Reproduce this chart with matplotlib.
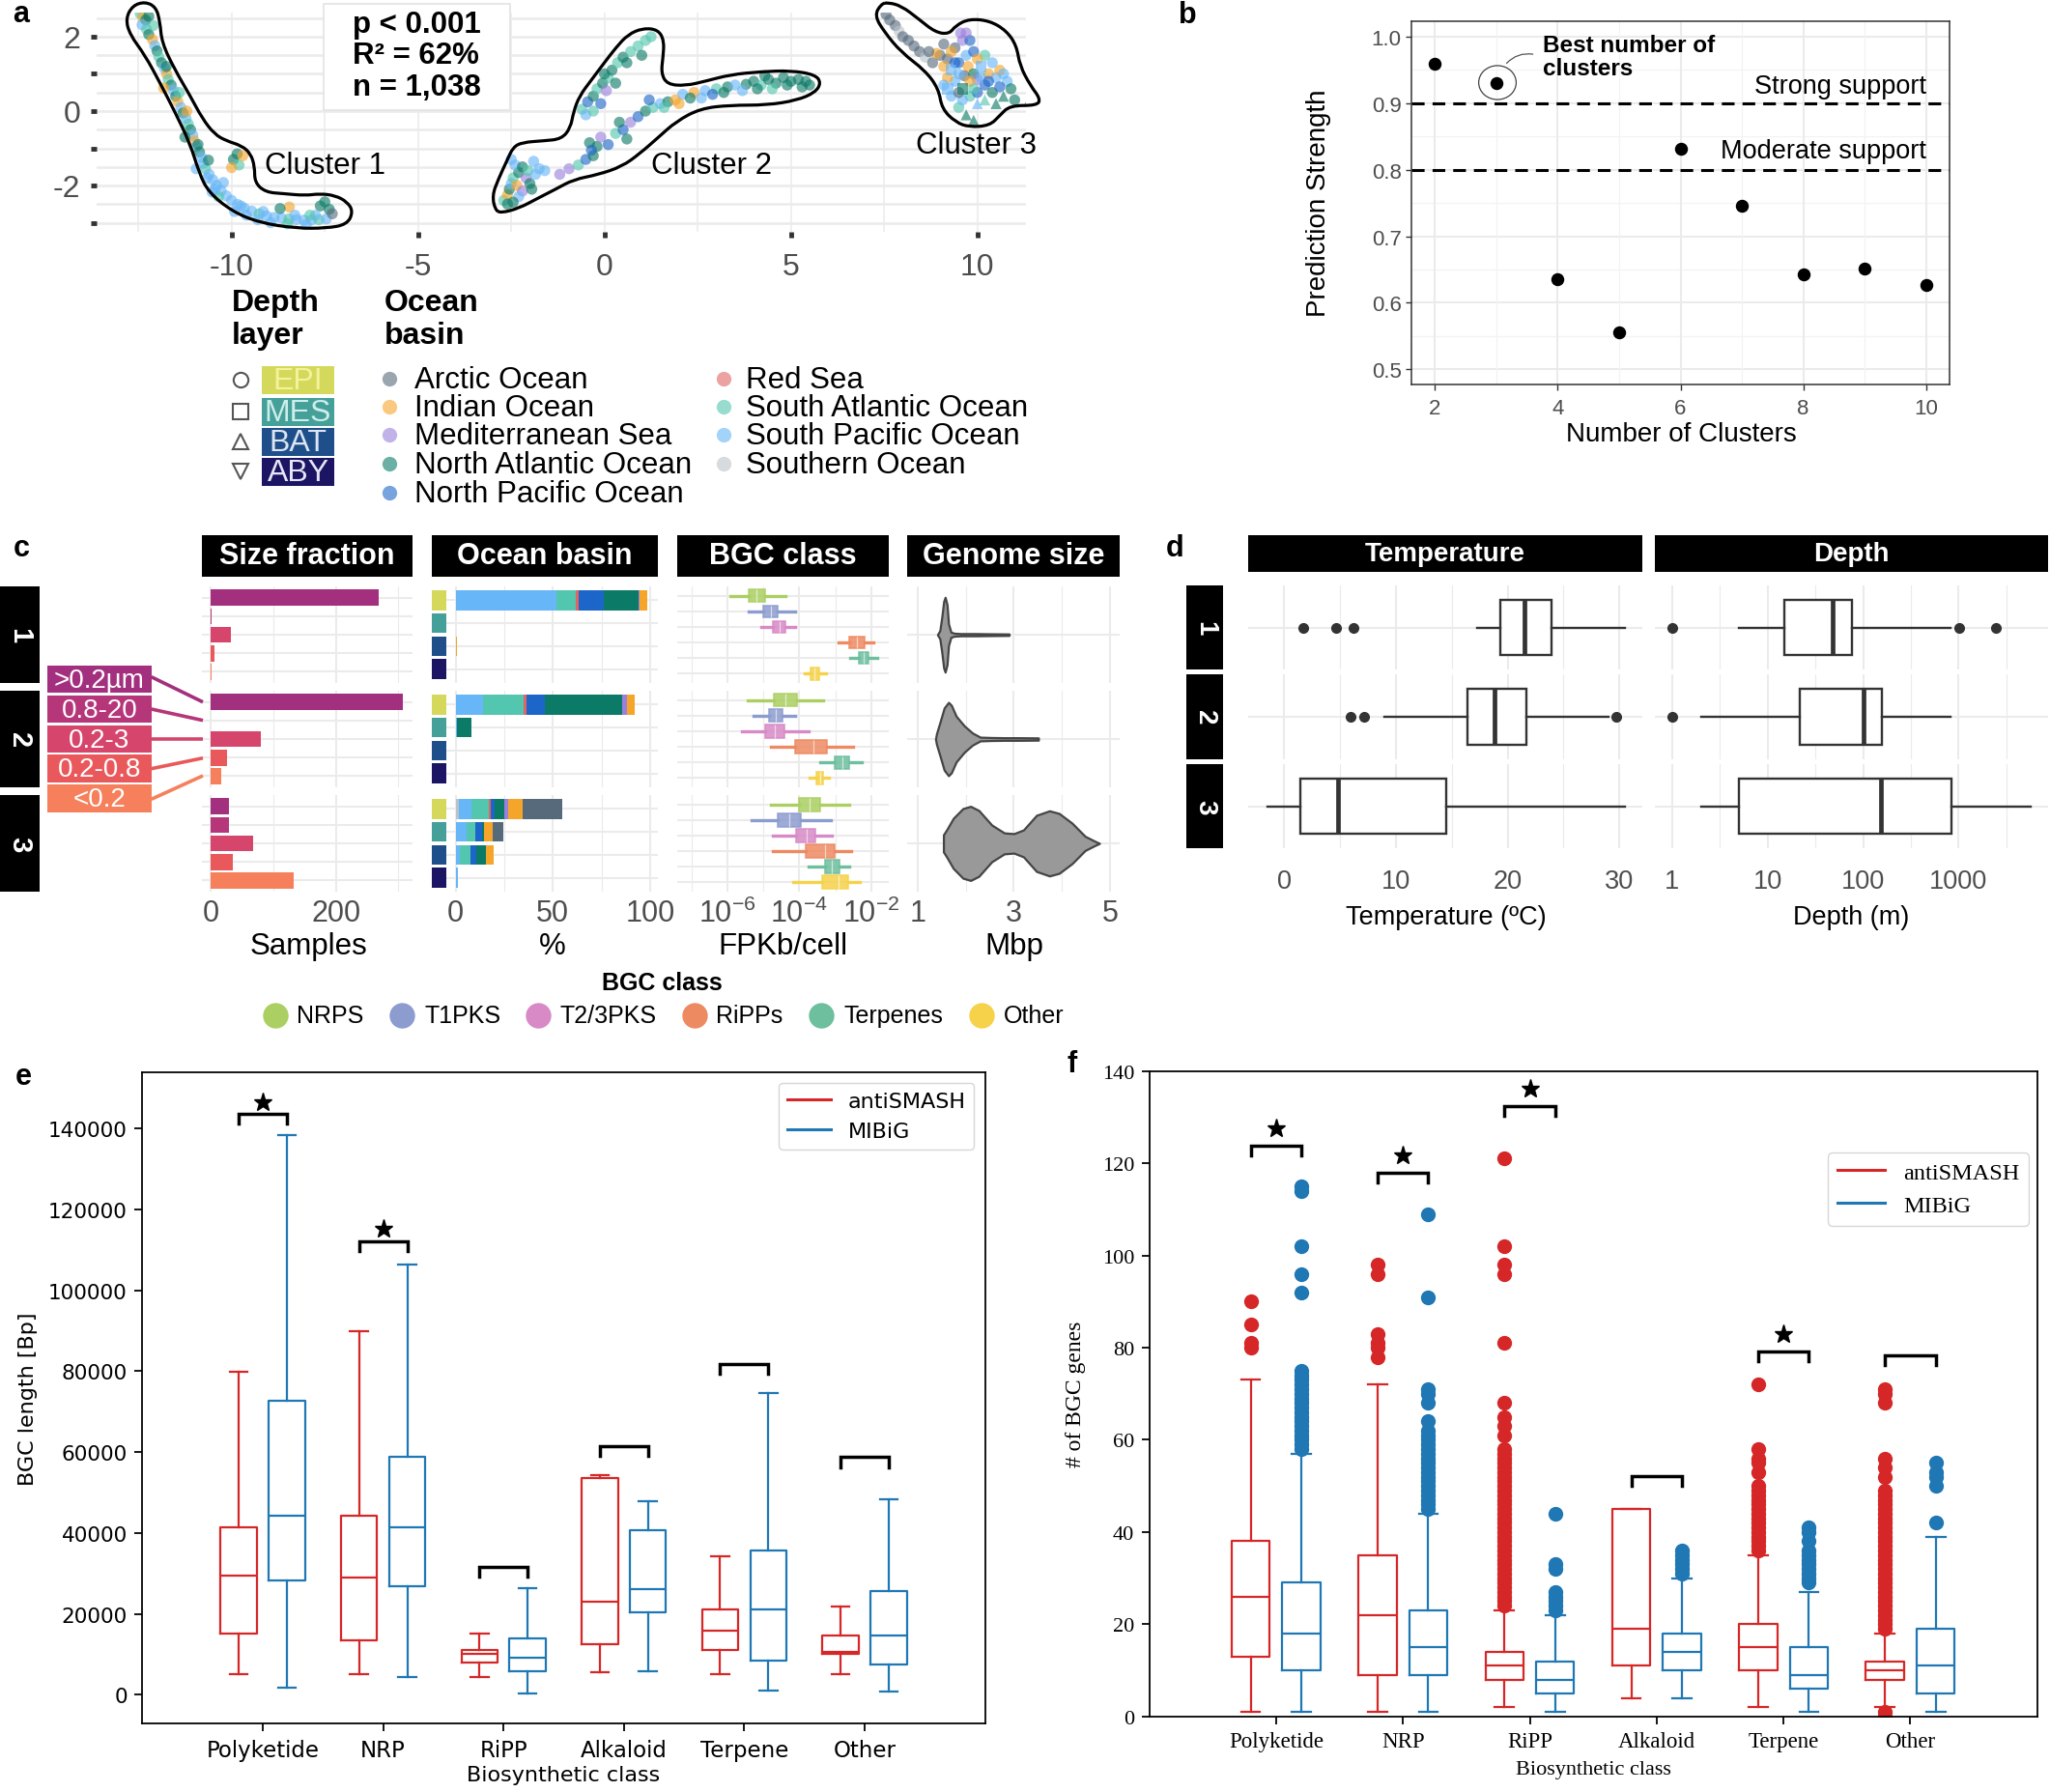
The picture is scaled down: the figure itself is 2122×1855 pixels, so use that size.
import numpy as np
import matplotlib
matplotlib.use('Agg')
import matplotlib.pyplot as plt
from matplotlib.patches import Rectangle, PathPatch, Ellipse
from matplotlib.path import Path
from matplotlib.lines import Line2D

plt.rcParams['font.family'] = ['Liberation Sans', 'DejaVu Sans']
plt.rcParams['mathtext.default'] = 'regular'

# ---------------- data ----------------
basin_names = ['Arctic Ocean', 'Indian Ocean', 'Mediterranean Sea', 'North Atlantic Ocean',
               'North Pacific Ocean', 'Red Sea', 'South Atlantic Ocean', 'South Pacific Ocean',
               'Southern Ocean']
basin_cols = ['#566a7b', '#f5a52a', '#9a80dd', '#0b7a66', '#1d66c9', '#e06464',
              '#52c6ae', '#67b6f7', '#b9c3c9']
depth_names = ['EPI', 'MES', 'BAT', 'ABY']
depth_cols = ['#d5d95b', '#46a09a', '#1f4f8b', '#1b1564']
depth_txt = ['#f3f39c', '#cdeeea', '#dce6f3', '#e6e6f5']
depth_markers = ['o', 's', '^', 'v']

# panel a: UMAP points (x, y, basin index) and cluster outlines
c1_pts = [(-12.45, 2.62, 6), (-12.38, 2.52, 1), (-12.30, 2.45, 3), (-12.40, 2.32, 7), (-12.28, 2.20, 6),
          (-12.22, 2.06, 3), (-12.12, 1.92, 1), (-12.06, 1.76, 7), (-12.00, 1.62, 3), (-11.95, 1.46, 6),
          (-11.88, 1.30, 3), (-11.80, 1.15, 7), (-11.74, 1.00, 1), (-11.70, 0.85, 6), (-11.62, 0.70, 3),
          (-11.56, 0.56, 7), (-11.50, 0.40, 3), (-11.44, 0.26, 1), (-11.36, 0.10, 7), (-11.30, -0.05, 3),
          (-11.22, -0.20, 7), (-11.16, -0.35, 6), (-11.10, -0.50, 3), (-11.04, -0.65, 7), (-11.00, -0.80, 1),
          (-10.94, -0.95, 7), (-10.86, -1.10, 3), (-10.80, -1.25, 7), (-10.76, -1.40, 7), (-10.70, -1.55, 6),
          (-10.60, -1.70, 7), (-10.50, -1.85, 7), (-10.40, -2.00, 7), (-10.28, -2.14, 7), (-10.14, -2.28, 7),
          (-10.00, -2.40, 7), (-9.84, -2.51, 7), (-9.66, -2.61, 7), (-9.46, -2.69, 7), (-9.26, -2.76, 6),
          (-9.06, -2.82, 7), (-8.86, -2.86, 7), (-8.66, -2.88, 7), (-8.46, -2.90, 6), (-8.26, -2.92, 7),
          (-8.06, -2.93, 7), (-7.86, -2.93, 7), (-7.66, -2.92, 6), (-7.46, -2.90, 7), (-7.62, -2.55, 3),
          (-7.50, -2.44, 3), (-7.38, -2.64, 3), (-7.30, -2.76, 0), (-8.45, -2.58, 1), (-8.70, -2.62, 3),
          (-9.85, -1.15, 3), (-9.95, -1.30, 3), (-9.80, -1.45, 6), (-10.00, -1.52, 1), (-10.62, -1.32, 3),
          (-10.22, -1.92, 7), (-10.52, -2.18, 7), (-9.92, -2.70, 7), (-9.30, -2.92, 7), (-8.95, -3.00, 7),
          (-8.50, -3.03, 6), (-12.22, 2.55, 3), (-11.82, 0.62, 1), (-11.25, -0.70, 3), (-10.95, -1.55, 7),
          (-10.35, -2.30, 6), (-9.60, -2.80, 7), (-8.00, -3.05, 7), (-7.75, -2.80, 7),
          (-12.10, 2.30, 6), (-11.75, 1.20, 3), (-11.40, 0.50, 6), (-11.20, 0.00, 1), (-10.90, -0.90, 3),
          (-10.65, -1.80, 7), (-10.45, -2.10, 7), (-9.75, -2.55, 7), (-9.15, -2.70, 7), (-8.30, -2.80, 7),
          (-7.90, -2.80, 6), (-9.70, -1.20, 1)]
c2_pts = [(-2.70, -2.40, 6), (-2.60, -2.25, 1), (-2.55, -2.10, 3), (-2.50, -1.95, 7), (-2.45, -1.80, 6),
          (-2.35, -2.00, 1), (-2.30, -1.65, 3), (-2.40, -1.45, 7), (-2.50, -1.30, 7), (-2.20, -1.50, 3),
          (-2.10, -1.80, 2), (-2.00, -1.95, 3), (-2.05, -1.60, 6), (-1.90, -1.35, 7), (-1.75, -1.55, 7),
          (-2.60, -2.50, 3), (-2.20, -2.15, 2), (-1.95, -2.10, 3), (-1.20, -1.70, 2), (-0.95, -1.55, 2),
          (-1.60, -1.60, 7), (-0.70, -1.45, 6), (-0.50, -1.30, 4), (-0.30, -1.20, 3), (-0.20, -0.95, 3),
          (-0.40, -0.85, 3), (-0.10, -0.70, 2), (0.10, -0.90, 4), (0.30, -0.60, 6), (0.50, -0.50, 4),
          (0.70, -0.30, 2), (0.90, -0.15, 4), (1.10, 0.00, 3), (1.30, 0.10, 6), (1.50, 0.20, 7),
          (1.70, 0.25, 3), (1.90, 0.30, 1), (0.60, -0.75, 3), (-0.35, -1.05, 4), (-0.60, 0.05, 6),
          (-0.45, 0.25, 4), (-0.30, 0.40, 3), (-0.50, -0.10, 7), (-0.20, 0.60, 6), (-0.05, 0.75, 3),
          (0.10, 0.90, 6), (0.20, 1.10, 3), (0.35, 1.30, 6), (0.50, 1.45, 3), (0.70, 1.60, 6),
          (0.90, 1.75, 6), (1.10, 1.90, 6), (1.25, 2.00, 6), (0.05, 0.55, 2), (-0.10, 0.20, 4),
          (0.30, 0.75, 3), (1.00, 1.50, 3), (2.10, 0.45, 7), (2.40, 0.50, 1), (2.30, 0.35, 3),
          (2.70, 0.55, 7), (3.00, 0.60, 6), (3.30, 0.65, 3), (3.50, 0.70, 7), (3.80, 0.72, 3),
          (4.00, 0.80, 3), (4.20, 0.70, 6), (4.40, 0.85, 3), (4.60, 0.75, 3), (4.80, 0.90, 3),
          (5.00, 0.80, 3), (5.20, 0.85, 3), (5.40, 0.80, 3), (5.50, 0.70, 3), (3.70, 0.55, 7),
          (4.50, 0.60, 6), (2.00, 0.20, 1), (2.90, 0.45, 4),
          (-2.30, -2.30, 7), (-2.45, -2.45, 3), (-1.85, -1.70, 7), (0.40, -0.30, 3), (1.20, 0.30, 4),
          (3.20, 0.50, 3), (4.10, 0.60, 3), (4.90, 0.70, 3), (5.30, 0.65, 3), (4.30, 0.95, 3),
          (2.60, 0.35, 7), (0.00, 1.00, 3), (0.60, 1.30, 3), (-0.30, 0.00, 6), (1.60, 0.10, 6)]
# cluster 3 also carries the depth layer (0 EPI, 1 MES, 2 BAT)
c3_pts = [(7.55, 2.60, 0, 0), (7.65, 2.45, 0, 0), (7.80, 2.30, 0, 0), (7.90, 2.15, 8, 0), (8.00, 2.00, 0, 0),
          (8.15, 1.90, 0, 0), (8.30, 1.75, 0, 0), (8.45, 1.60, 0, 0), (8.60, 1.45, 8, 0), (8.80, 1.30, 0, 0),
          (9.00, 1.50, 0, 0), (9.20, 1.40, 0, 0), (9.10, 1.20, 1, 0), (9.30, 1.10, 7, 1), (9.50, 1.30, 4, 0),
          (9.70, 1.50, 7, 0), (9.60, 1.90, 2, 0), (9.55, 2.10, 2, 0), (9.75, 1.20, 1, 0), (9.90, 1.00, 3, 0),
          (10.10, 1.20, 7, 1), (10.30, 1.00, 1, 0), (10.50, 0.90, 7, 0), (10.20, 0.70, 4, 0), (9.40, 0.80, 7, 0),
          (9.60, 0.60, 3, 1), (9.80, 0.40, 6, 0), (10.00, 0.50, 4, 0), (10.40, 0.50, 3, 0), (10.70, 0.40, 3, 2),
          (11.00, 0.30, 3, 0), (11.40, 0.30, 3, 2), (9.30, 0.40, 7, 0), (9.50, 0.10, 6, 0), (9.70, -0.10, 3, 2),
          (9.90, -0.25, 3, 2), (10.00, 0.20, 7, 2), (9.20, 0.90, 1, 0), (10.60, 1.10, 1, 0), (10.80, 0.80, 7, 0),
          (9.10, 0.70, 7, 0), (9.90, 1.60, 4, 0), (10.20, 1.50, 6, 0), (10.40, 1.30, 7, 0), (9.40, 1.70, 0, 0),
          (9.10, 1.80, 0, 0), (8.90, 1.55, 1, 0), (10.00, 0.85, 2, 0), (10.60, 0.65, 4, 0), (9.65, 0.95, 0, 0),
          (9.30, 1.60, 1, 0), (9.50, 1.00, 7, 0), (9.80, 0.80, 1, 0), (10.10, 0.90, 7, 0), (10.30, 0.80, 4, 0),
          (9.60, 0.30, 7, 0), (9.90, 0.60, 6, 0), (10.20, 0.30, 6, 2), (10.50, 0.20, 3, 2), (9.40, 1.30, 4, 0),
          (9.80, 1.90, 4, 0), (10.00, 1.40, 1, 0), (9.20, 0.60, 7, 1), (10.70, 1.00, 7, 0), (10.90, 0.60, 3, 0),
          (9.50, 0.50, 0, 0), (9.70, 2.10, 2, 0), (8.70, 1.60, 0, 0)]
c1_outline = [(-12.65, 2.84), (-12.84, 2.49), (-12.73, 2.06), (-12.32, 1.50), (-11.92, 0.76), (-11.52, -0.02),
              (-11.11, -0.88), (-10.87, -1.66), (-10.62, -2.18), (-9.98, -2.70), (-9.25, -3.00), (-8.28, -3.15),
              (-7.47, -3.15), (-6.90, -3.05), (-6.74, -2.70), (-6.90, -2.44), (-7.22, -2.27), (-7.63, -2.22),
              (-8.03, -2.27), (-8.60, -2.22), (-9.09, -2.18), (-9.38, -1.92), (-9.38, -1.49), (-9.49, -1.14),
              (-9.73, -0.93), (-10.14, -0.80), (-10.46, -0.62), (-10.79, -0.19), (-11.11, 0.41), (-11.52, 1.11),
              (-11.87, 1.84), (-11.92, 2.41), (-12.03, 2.80), (-12.32, 2.94)]
c2_outline = [(-2.93, -2.66), (-3.01, -2.27), (-2.85, -1.84), (-2.61, -1.32), (-2.45, -0.97), (-2.20, -0.84),
              (-1.64, -0.80), (-1.15, -0.75), (-0.91, -0.45), (-0.83, -0.02), (-0.67, 0.41), (-0.34, 0.85),
              (-0.02, 1.28), (0.31, 1.71), (0.63, 2.06), (1.03, 2.23), (1.44, 2.19), (1.60, 1.89),
              (1.57, 1.45), (1.52, 1.02), (1.68, 0.72), (2.17, 0.68), (2.73, 0.81), (3.38, 0.98),
              (4.19, 1.06), (5.00, 1.09), (5.65, 0.98), (5.81, 0.76), (5.65, 0.50), (5.16, 0.29),
              (4.35, 0.16), (3.38, 0.16), (2.57, 0.07), (1.92, -0.28), (1.44, -0.71), (0.95, -1.14),
              (0.47, -1.49), (-0.18, -1.71), (-0.83, -1.84), (-1.31, -2.10), (-1.80, -2.35), (-2.29, -2.61),
              (-2.77, -2.74)]
c3_outline = [(7.42, 2.88), (7.24, 2.57), (7.51, 2.12), (7.96, 1.58), (8.60, 1.09), (8.96, 0.60),
              (9.05, 0.06), (9.42, -0.30), (9.78, -0.43), (10.33, -0.39), (10.60, -0.12), (10.87, 0.15),
              (11.60, 0.15), (11.69, 0.33), (11.42, 0.69), (11.14, 1.22), (11.05, 1.76), (10.78, 2.16),
              (10.33, 2.43), (9.78, 2.48), (9.42, 2.30), (9.24, 2.07), (8.87, 2.12), (8.42, 2.48),
              (7.96, 2.83), (7.60, 2.92)]
cluster_labels = [('Cluster 1', -7.48, -1.45), ('Cluster 2', 2.88, -1.45), ('Cluster 3', 9.96, -0.91)]

# panel b
n_clusters = [2, 3, 4, 5, 6, 7, 8, 9, 10]
pred_strength = [0.96, 0.93, 0.636, 0.556, 0.832, 0.746, 0.643, 0.652, 0.627]

# panel c
sf_labels = ['>0.2µm', '0.8-20', '0.2-3', '0.2-0.8', '<0.2']
sf_cols = ['#a3307e', '#b6367a', '#d6456b', '#e9595c', '#f6805b']
sf_counts = [[269, 1, 32, 6, 1],
             [307, 0, 80, 26, 17],
             [29, 29, 68, 35, 132]]
# stacking order, left to right
ob_order = [8, 7, 6, 5, 4, 3, 2, 1, 0]
ob_pct = [
    [[0, 51.9, 9.8, 1.6, 12.7, 18.0, 0.5, 4.2, 0], [0, 0.3, 0, 0, 0, 0, 0, 0, 0],
     [0, 0, 0, 0, 0, 0, 0, 0.4, 0], [0, 0, 0, 0, 0, 0, 0, 0, 0]],
    [[0, 14.1, 20.7, 1.7, 9.6, 39.6, 2.7, 3.6, 0], [0, 0.8, 0, 0, 0, 7.2, 0, 0, 0],
     [0, 0, 0, 0, 0, 0, 0, 0, 0], [0, 0, 0, 0, 0, 0, 0, 0, 0]],
    [[1.7, 6.3, 8.9, 1.3, 1.7, 5.0, 2.1, 7.3, 20.4], [0, 5.8, 4.2, 0, 3.8, 0.8, 0, 4.5, 5.3],
     [0, 2.2, 5.3, 0, 3.3, 4.6, 0, 4.0, 0], [0, 1.0, 0, 0, 0, 0, 0, 0, 0]],
]
bgc_names = ['NRPS', 'T1PKS', 'T2/3PKS', 'RiPPs', 'Terpenes', 'Other']
bgc_cols = ['#abcf62', '#8c9ccf', '#d78ac6', '#ee8a62', '#6dbf9e', '#f6d24a']
# log10 FPKb/cell: whisker low, q1, median, q3, whisker high
bgc_log = [
    [[-5.91, -5.40, -5.18, -4.94, -4.39], [-5.40, -5.00, -4.79, -4.60, -4.11], [-5.06, -4.73, -4.55, -4.38, -4.11],
     [-2.90, -2.61, -2.41, -2.19, -1.94], [-2.59, -2.34, -2.21, -2.08, -1.84], [-3.86, -3.69, -3.57, -3.46, -3.26]],
    [[-5.42, -4.71, -4.38, -4.06, -3.35], [-5.27, -4.84, -4.66, -4.48, -4.11], [-5.60, -4.94, -4.69, -4.42, -3.75],
     [-4.79, -4.13, -3.61, -3.24, -2.50], [-3.42, -3.01, -2.81, -2.61, -2.27], [-3.71, -3.54, -3.43, -3.33, -3.17]],
    [[-4.79, -4.02, -3.72, -3.42, -2.63], [-5.33, -4.60, -4.28, -3.97, -3.14], [-4.73, -4.08, -3.81, -3.55, -3.10],
     [-4.73, -3.82, -3.30, -3.03, -2.57], [-3.75, -3.30, -3.10, -2.88, -2.61], [-4.17, -3.37, -2.90, -2.65, -2.32]],
]
bgc_box_w = [0.78, 0.82, 0.88]
gs_mbp = [
    [1.41, 1.46, 1.50, 1.54, 1.57, 1.61, 1.64, 1.69, 1.76, 1.90, 2.20, 2.50, 2.90],
    [1.37, 1.39, 1.47, 1.55, 1.64, 1.70, 1.80, 1.97, 2.14, 2.30, 2.54, 2.80, 3.10, 3.51],
    [1.535, 1.60, 1.74, 1.94, 2.10, 2.27, 2.54, 2.80, 3.00, 3.20, 3.47, 3.74, 3.94, 4.21, 4.48, 4.68, 4.78],
]
gs_half = [
    [0, 0.11, 0.46, 0.89, 1.0, 0.80, 0.29, 0.07, 0.04, 0.03, 0.03, 0.025, 0.02],
    [0, 0.14, 0.48, 0.83, 0.98, 0.90, 0.61, 0.35, 0.16, 0.05, 0.04, 0.035, 0.035, 0.03],
    [0.23, 0.36, 0.67, 0.93, 0.99, 0.88, 0.49, 0.28, 0.26, 0.36, 0.75, 0.87, 0.80, 0.54, 0.19, 0.06, 0],
]

# panel d: whisker low, q1, median, q3, whisker high + outliers
temp_stats = [[17.3, 19.3, 21.5, 23.9, 30.5], [9.0, 16.4, 18.8, 21.7, 29.0], [-1.5, 1.4, 4.8, 14.5, 30.5]]
temp_out = [[1.7, 4.6, 6.2], [5.9, 7.1, 29.7], []]
depth_stats = [[5.0, 14.9, 47.7, 77, 813], [2.0, 21.8, 101, 157, 813], [2.0, 5.0, 153, 847, 5750]]
depth_out = [[1, 1025, 2430], [1], []]

# panels e and f
classes = ['Polyketide', 'NRP', 'RiPP', 'Alkaloid', 'Terpene', 'Other']
e_anti = [[5060, 15100, 29540, 41350, 79740], [5060, 13590, 28940, 44290, 89790],
          [4480, 8020, 10030, 10980, 15100], [5540, 12630, 23040, 53530, 54340],
          [5060, 10980, 15950, 21030, 34140], [5060, 10030, 10500, 14750, 21840]]
e_mibig = [[1770, 28340, 44290, 72650, 138230], [4360, 26810, 41350, 58830, 106340],
           [360, 5780, 9210, 14060, 26330], [5900, 20310, 26210, 40750, 47840],
           [1170, 8500, 21030, 35790, 74650], [810, 7430, 14750, 25760, 48440]]
e_bracket = [143560, 112100, 31660, 61430, 81750, 58710]
e_star = [True, True, False, False, False, False]

f_anti = [[1, 13, 26, 38, 73], [1, 9, 22, 35, 72], [2, 8, 11, 14, 23],
          [4, 11, 19, 45, 45], [2, 10, 15, 20, 35], [2, 8, 10, 12, 18]]
f_mibig = [[1, 10, 18, 29, 57], [1, 9, 15, 23, 44], [1, 5, 8, 12, 22],
           [4, 10, 14, 18, 30], [1, 6, 9, 15, 27], [1, 5, 11, 19, 39]]
f_anti_out = [[80, 81, 85, 90],
              [78, 80, 81, 83, 96, 98],
              [24, 25, 26, 27, 28, 29, 30, 31, 32, 33, 34, 35, 36, 37, 38, 39, 40, 41, 42, 43, 44, 45, 46,
               47, 48, 49, 50, 51, 52, 53, 54, 55, 56, 57, 58, 61, 63, 65, 68, 81, 96, 98, 102, 121],
              [],
              [36, 37, 38, 39, 40, 41, 42, 43, 44, 45, 46, 47, 48, 49, 50, 53, 55, 56, 58, 72],
              [0, 1, 19, 20, 21, 22, 23, 24, 25, 26, 27, 28, 29, 30, 31, 32, 33, 34, 35, 36, 37, 38, 39, 40,
               41, 42, 43, 44, 45, 46, 47, 48, 49, 52, 54, 56, 68, 70, 71]]
f_mibig_out = [[58, 59, 60, 61, 62, 63, 64, 65, 66, 67, 68, 69, 70, 71, 72, 73, 74, 75, 92, 96, 102, 114, 115],
               [45, 46, 47, 48, 49, 50, 51, 52, 53, 54, 55, 56, 57, 58, 59, 60, 61, 62, 64, 68, 70, 71, 91, 109],
               [23, 24, 25, 26, 27, 32, 33, 44],
               [31, 32, 33, 34, 35, 36],
               [29, 30, 31, 32, 33, 34, 35, 36, 38, 40, 41],
               [42, 50, 52, 53, 55]]
f_bracket = [123.8, 117.9, 132.4, 52.2, 79.1, 78.4]
f_star = [True, True, True, False, True, False]

# ---------------- figure ----------------
W, H = 2122, 1856
fig = plt.figure(figsize=(W / 100, H / 100), dpi=100)
GRID = '#ebebeb'
TXT = '#4d4d4d'


def add_ax(l, t, r, b):
    return fig.add_axes([l / W, 1 - b / H, (r - l) / W, (b - t) / H])


def smooth_closed(pts):
    v = np.asarray(pts, float)
    m = (v + np.roll(v, -1, axis=0)) / 2
    verts, codes = [m[-1]], [Path.MOVETO]
    for i in range(len(v)):
        verts += [v[i], m[i]]
        codes += [Path.CURVE3, Path.CURVE3]
    return Path(verts, codes)


# ---- a ----
axa = add_ax(100, 14, 1062, 241)
axa.set_xlim((100 - 625.7) / 38.6, (1062 - 625.7) / 38.6)
axa.set_ylim((116 - 241) / 38.5, (116 - 14) / 38.5)
for sp in axa.spines.values():
    sp.set_visible(False)
for yv in np.arange(-3, 2.6, 0.5):
    axa.axhline(yv, color=GRID, lw=1.8, zorder=0)
for xv in np.arange(-12.5, 11, 2.5):
    axa.axvline(xv, color=GRID, lw=1.1, zorder=0)
for pts in (c1_pts, c2_pts):
    xs, ys, bs = zip(*pts)
    axa.scatter(xs, ys, s=68, c=[basin_cols[b] for b in bs], alpha=0.62, lw=0, zorder=3)
for d in range(3):
    sub = [p for p in c3_pts if p[3] == d]
    xs, ys, bs, _ = zip(*sub)
    axa.scatter(xs, ys, s=68, c=[basin_cols[b] for b in bs], alpha=0.62, lw=0,
                marker=depth_markers[d], zorder=3)
for ol in (c1_outline, c2_outline, c3_outline):
    axa.add_patch(PathPatch(smooth_closed(ol), fc='none', ec='black', lw=2.3, clip_on=False, zorder=4))
for lab, lx, ly in cluster_labels:
    axa.text(lx, ly, lab, fontsize=22.5, ha='center', va='center', zorder=5)
axa.set_xticks([-10, -5, 0, 5, 10])
axa.set_xticklabels(['-10', '-5', '0', '5', '10'])
axa.set_yticks([-3, -2, -1, 0, 1, 2])
axa.set_yticklabels(['', '-2', '', '0', '', '2'])
axa.tick_params(length=4, width=3.5, color='#333333', labelsize=23, labelcolor=TXT)
axa.tick_params(axis='x', pad=11)
axa.tick_params(axis='y', pad=8)

# ---- b ----
axb = add_ax(1461, 23, 2018, 399)
axb.set_xlim(1.62, 10.38)
axb.set_ylim(0.4772, 1.0232)
for yv in [0.5, 0.6, 0.7, 0.8, 0.9, 1.0]:
    axb.axhline(yv, color=GRID, lw=1.5, zorder=0)
for yv in [0.55, 0.65, 0.75, 0.85, 0.95]:
    axb.axhline(yv, color='#f3f3f3', lw=0.9, zorder=0)
for xv in [2, 4, 6, 8, 10]:
    axb.axvline(xv, color=GRID, lw=1.5, zorder=0)
for xv in [3, 5, 7, 9]:
    axb.axvline(xv, color='#f3f3f3', lw=0.9, zorder=0)
axb.axhline(0.9, color='black', lw=2.2, ls=(0, (4.3, 2.7)), zorder=2)
axb.axhline(0.8, color='black', lw=2.2, ls=(0, (4.3, 2.7)), zorder=2)
axb.scatter(n_clusters, pred_strength, s=75, color='black', zorder=3)
for sp in axb.spines.values():
    sp.set_color('#333333')
    sp.set_linewidth(1.1)
axb.set_xticks([2, 4, 6, 8, 10])
axb.set_yticks([0.5, 0.6, 0.7, 0.8, 0.9, 1.0])
axb.set_yticklabels(['0.5', '0.6', '0.7', '0.8', '0.9', '1.0'])
axb.tick_params(length=4, width=1, color='#333333', labelsize=16, labelcolor=TXT)
axb.tick_params(axis='x', pad=6)
axb.text(10.0, 0.9255, 'Strong support', fontsize=19.5, ha='right', va='center')
axb.text(10.0, 0.828, 'Moderate support', fontsize=19.5, ha='right', va='center')
axb.text(3.76, 0.988, 'Best number of', fontsize=17.5, fontweight='bold', ha='left', va='center')
axb.text(3.76, 0.953, 'clusters', fontsize=17.5, fontweight='bold', ha='left', va='center')
axb.add_patch(Ellipse((3.02, 0.931), 0.61, 0.051, fc='none', ec='#444444', lw=0.9))
axb.annotate('', xy=(3.14, 0.957), xytext=(3.64, 0.973),
             arrowprops=dict(arrowstyle='-', connectionstyle='arc3,rad=0.3', color='#555555', lw=0.9))

# ---- c ----
row_y = [(608, 708), (716, 816), (824, 924)]


def facet(l, r, row, ncat, xlim, major, minor, labels, log=False):
    ax = add_ax(l, row_y[row][0], r, row_y[row][1])
    if log:
        ax.set_xscale('log')
    ax.set_xlim(*xlim)
    ax.set_ylim(ncat + 0.6, 0.4)
    for sp in ax.spines.values():
        sp.set_visible(False)
    for v in major:
        ax.axvline(v, color=GRID, lw=1.5, zorder=0)
    for v in minor:
        ax.axvline(v, color=GRID, lw=0.8, zorder=0)
    for k in range(1, ncat + 1):
        ax.axhline(k, color=GRID, lw=1.5, zorder=0)
    ax.set_yticks([])
    ax.set_xticks(major)
    ax.set_xticks([], minor=True)
    ax.set_xticklabels(labels if row == 2 else [''] * len(major))
    ax.tick_params(axis='x', length=0, pad=5, labelsize=22, labelcolor=TXT)
    return ax


for r in range(3):
    # size fraction
    ax = facet(208.5, 426.7, r, 5, (-15.1, 322.1), [0, 200], [100, 300], ['0', '200'])
    ax.barh(np.arange(1, 6), sf_counts[r], height=0.86, color=sf_cols, zorder=2)
    # ocean basin
    ax = facet(447, 681, r, 4, (-12.3, 104.1), [0, 50, 100], [25, 75], ['0', '50', '100'])
    ax.barh(np.arange(1, 5), 7.1, left=-12.1, height=0.87, color=depth_cols, zorder=2)
    for d in range(4):
        left = 0.0
        for k, b in enumerate(ob_order):
            v = ob_pct[r][d][k]
            if v > 0:
                ax.barh(d + 1, v, left=left, height=0.87, color=basin_cols[b], zorder=2)
            left += v
    # BGC class
    ax = facet(700.6, 919.6, r, 6, (10 ** -7.40, 10 ** -1.53), [1e-6, 1e-4, 1e-2], [1e-7, 1e-5, 1e-3],
               ['$10^{-6}$', '$10^{-4}$', '$10^{-2}$'], log=True)
    for k, st in enumerate(bgc_log[r]):
        lo, q1, md, q3, hi = [10 ** v for v in st]
        ax.bxp([dict(whislo=lo, q1=q1, med=md, q3=q3, whishi=hi, fliers=[])], positions=[k + 1],
               widths=bgc_box_w[r], orientation='horizontal', patch_artist=True, showcaps=False,
               manage_ticks=False,
               boxprops=dict(facecolor=bgc_cols[k], edgecolor=bgc_cols[k], alpha=0.85, lw=1.2),
               whiskerprops=dict(color=bgc_cols[k], lw=2.4),
               medianprops=dict(color='white', lw=0.9, alpha=0.6))
    # genome size
    ax = facet(939, 1159, r, 1, (0.78, 5.2), [1, 3, 5], [2, 4], ['1', '3', '5'])
    hw = np.array(gs_half[r]) * 0.465
    ax.fill_between(gs_mbp[r], 1 - hw, 1 + hw, facecolor='#999999', edgecolor='#454545', lw=1.6, zorder=2)

# ---- d ----
drow_y = [(607, 694), (699, 787), (792, 879)]
for r in range(3):
    for kind in ('temp', 'depth'):
        if kind == 'temp':
            ax = add_ax(1292, drow_y[r][0], 1700, drow_y[r][1])
            ax.set_xlim(-3.24, 32.06)
            major, minor = [0, 10, 20, 30], [5, 15, 25]
            st, out = temp_stats[r], temp_out[r]
            labels = ['0', '10', '20', '30']
        else:
            ax = add_ax(1712.7, drow_y[r][0], 2120, drow_y[r][1])
            ax.set_xscale('log')
            ax.set_xlim(10 ** -0.185, 10 ** 3.937)
            major = [1, 10, 100, 1000]
            minor = [10 ** 0.5, 10 ** 1.5, 10 ** 2.5, 10 ** 3.5]
            st, out = depth_stats[r], depth_out[r]
            labels = ['1', '10', '100', '1000']
        ax.set_ylim(1.6, 0.4)
        for sp in ax.spines.values():
            sp.set_visible(False)
        for v in major:
            ax.axvline(v, color=GRID, lw=1.5, zorder=0)
        for v in minor:
            ax.axvline(v, color=GRID, lw=0.8, zorder=0)
        ax.axhline(1, color=GRID, lw=1.5, zorder=0)
        ax.bxp([dict(whislo=st[0], q1=st[1], med=st[2], q3=st[3], whishi=st[4], fliers=out)],
               positions=[1], widths=0.78, orientation='horizontal', patch_artist=True, showcaps=False,
               manage_ticks=False,
               boxprops=dict(facecolor='white', edgecolor='#333333', lw=1.7),
               whiskerprops=dict(color='#333333', lw=1.7),
               medianprops=dict(color='#333333', lw=3.4),
               flierprops=dict(marker='o', markerfacecolor='#333333', markeredgecolor='#333333', markersize=7))
        ax.set_yticks([])
        ax.set_xticks(major)
        ax.set_xticks([], minor=True)
        ax.set_xticklabels(labels if r == 2 else [''] * 4)
        ax.tick_params(axis='x', length=0, pad=15, labelsize=19.5, labelcolor=TXT)

# ---- e ----
RED, BLUE = '#d62728', '#1f77b4'
pos = np.arange(1, 7)


def stat_dicts(rows, fl=None):
    return [dict(whislo=v[0], q1=v[1], med=v[2], q3=v[3], whishi=v[4],
                 fliers=(fl[i] if fl else [])) for i, v in enumerate(rows)]


def draw_pair(ax, anti, mibig, anti_fl=None, mibig_fl=None):
    for rows, fl, off, col in [(anti, anti_fl, -0.2, RED), (mibig, mibig_fl, 0.2, BLUE)]:
        lp = dict(color=col, lw=1.6)
        ax.bxp(stat_dicts(rows, fl), positions=pos + off, widths=0.3, manage_ticks=False,
               showfliers=fl is not None, boxprops=lp, whiskerprops=lp, capprops=lp, medianprops=lp,
               flierprops=dict(marker='o', markerfacecolor=col, markeredgecolor=col, markersize=10))


def brackets(ax, ys, stars, drop, star_off):
    for i, (yv, s) in enumerate(zip(ys, stars)):
        x = pos[i]
        ax.plot([x - 0.2, x - 0.2, x + 0.2, x + 0.2], [yv - drop, yv, yv, yv - drop], color='black',
                lw=2.5, solid_joinstyle='miter', zorder=5)
        if s:
            ax.plot(x, yv + star_off, marker='*', color='black', ms=14, zorder=5)


axe = add_ax(147.4, 1110.7, 1019.6, 1785.2)
draw_pair(axe, e_anti, e_mibig)
brackets(axe, e_bracket, e_star, 2400, 2950)
axe.set_xlim(0, 7)
axe.set_ylim(-7100, 153900)
axe.set_xticks(pos)
axe.set_xticklabels(classes)
axe.set_yticks([0, 20000, 40000, 60000, 80000, 100000, 120000, 140000])
axe.tick_params(length=5.6, width=1.28, pad=5.6, labelsize=15.5, labelfontfamily='DejaVu Sans')
axe.tick_params(axis='x', labelsize=16.5)
for sp in axe.spines.values():
    sp.set_linewidth(1.28)
axe.set_ylabel('BGC length [Bp]', fontsize=16, family='DejaVu Sans', labelpad=8)
axe.set_xlabel('Biosynthetic class', fontsize=16, family='DejaVu Sans', labelpad=3)
axe.legend([Line2D([], [], color=RED, lw=2.2), Line2D([], [], color=BLUE, lw=2.2)], ['antiSMASH', 'MIBiG'],
           loc='upper right', prop=dict(family='DejaVu Sans', size=16))

# ---- f ----
axf = add_ax(1189.6, 1109.7, 2108.7, 1777.8)
draw_pair(axf, f_anti, f_mibig, f_anti_out, f_mibig_out)
brackets(axf, f_bracket, f_star, 2.1, 3.8)
axf.set_xlim(0, 7)
axf.set_ylim(0, 140)
axf.set_xticks(pos)
axf.set_xticklabels(classes)
axf.set_yticks([0, 20, 40, 60, 80, 100, 120, 140])
axf.tick_params(length=5.6, width=1.28, pad=5.6, labelsize=16, labelfontfamily='Liberation Serif')
axf.tick_params(axis='x', labelsize=16.5)
for sp in axf.spines.values():
    sp.set_linewidth(1.28)
axf.set_ylabel('# of BGC genes', fontsize=17, family='Liberation Serif', labelpad=12)
axf.set_xlabel('Biosynthetic class', fontsize=16, family='Liberation Serif', labelpad=6)
axf.legend([Line2D([], [], color=RED, lw=2.2), Line2D([], [], color=BLUE, lw=2.2)], ['antiSMASH', 'MIBiG'],
           loc='upper right', bbox_to_anchor=(0.9905, 0.874), borderaxespad=0,
           prop=dict(family='Liberation Serif', size=17.5))

# ---------------- overlay: letters, strips, legends ----------------
ov = fig.add_axes([0, 0, 1, 1])
ov.set_xlim(0, W)
ov.set_ylim(H, 0)
ov.axis('off')

for let, lx, ly in [('a', 22, 15), ('b', 1229, 16), ('c', 22, 568), ('d', 1216, 568),
                    ('e', 24, 1115), ('f', 1110, 1102)]:
    ov.text(lx, ly, let, fontsize=22, fontweight='bold', ha='center', va='center')

# stats box of panel a
ov.add_patch(Rectangle((335, 5), 193, 110, fc='white', ec='#e3e3e3', lw=1.2))
for txt, ty in [('p < 0.001', 26), ('R² = 62%', 58.5), ('n = 1,038', 91)]:
    ov.text(365, ty, txt, fontsize=22.5, fontweight='bold', ha='left', va='center')

# panel a legend
for txt, tx, ty in [('Depth', 240, 322), ('layer', 240, 356), ('Ocean', 398, 322), ('basin', 398, 356)]:
    ov.text(tx, ty, txt, fontsize=23, fontweight='bold', ha='left', va='baseline')
for i, yy in enumerate([394, 427, 458, 489]):
    ov.plot(249, yy, marker=depth_markers[i], ms=11, mfc='none', mec='#555555', mew=1.5)
    ov.add_patch(Rectangle((271, yy - 14.5), 75, 29, fc=depth_cols[i], ec='none'))
    ov.text(308.5, yy + 1, depth_names[i], fontsize=23, color=depth_txt[i], ha='center', va='center')
leg_y = [392.6, 421.8, 451, 481.4, 511.4]
for i, nm in enumerate(basin_names):
    col_x = (403, 429) if i < 5 else (749, 772)
    yy = leg_y[i if i < 5 else i - 5]
    ov.plot(col_x[0], yy, marker='o', ms=11, color=basin_cols[i], alpha=0.6, mew=0)
    ov.text(col_x[1], yy + 1, nm, fontsize=22.5, ha='left', va='center')

# panel c / d headers and strips
for txt, l, r in [('Size fraction', 208.5, 426.7), ('Ocean basin', 447, 681), ('BGC class', 700.6, 919.6),
                  ('Genome size', 939, 1159), ('Temperature', 1292, 1700), ('Depth', 1712.7, 2120)]:
    t, b = (555, 598) if l < 1200 else (555, 593)
    ov.add_patch(Rectangle((l, t), r - l, b - t, fc='black', ec='none'))
    ov.text((l + r) / 2, (t + b) / 2, txt, fontsize=22 if l < 1200 else 20, fontweight='bold',
            color='white', ha='center', va='center')
for i, (t, b) in enumerate(row_y):
    ov.add_patch(Rectangle((0, t), 40.7, b - t, fc='black', ec='none'))
    ov.text(20.3, (t + b) / 2, str(i + 1), fontsize=21, fontweight='bold', color='white',
            ha='center', va='center', rotation=-90)
for i, (t, b) in enumerate(drow_y):
    ov.add_patch(Rectangle((1228, t), 38, b - t, fc='black', ec='none'))
    ov.text(1247, (t + b) / 2, str(i + 1), fontsize=20, fontweight='bold', color='white',
            ha='center', va='center', rotation=-90)

# size fraction labels with connectors to row 2
sf_box_y = [(690, 718.3), (720.7, 749), (751.7, 780), (782.3, 810.7), (813.3, 841.7)]
sf_link = [(701.7, 727.7), (735, 746.7), (765.7, 765.7), (796.7, 785.7), (828.3, 804)]
for i, (t, b) in enumerate(sf_box_y):
    ov.add_patch(Rectangle((49.3, t), 107.4, b - t, fc=sf_cols[i], ec='none'))
    ov.text(103, (t + b) / 2 + 1, sf_labels[i], fontsize=20, color='white', ha='center', va='center')
    ov.plot([156.7, 210], sf_link[i], color=sf_cols[i], lw=2.6, solid_capstyle='butt')

for txt, tx in [('Samples', 320), ('%', 572), ('FPKb/cell', 810.5), ('Mbp', 1050)]:
    ov.text(tx, 980, txt, fontsize=22.5, ha='center', va='center')
ov.text(1497, 950, 'Temperature (ºC)', fontsize=19.5, ha='center', va='center')
ov.text(1916, 950, 'Depth (m)', fontsize=19.5, ha='center', va='center')

# BGC class legend
ov.text(685, 1018, 'BGC class', fontsize=18, fontweight='bold', ha='center', va='center')
for nm, col, cx, tx in zip(bgc_names, bgc_cols, [284.5, 416, 557, 718.7, 850, 1016],
                           [307, 439, 579.5, 741, 873, 1038.5]):
    ov.plot(cx, 1052, marker='o', ms=19, color=col, mew=0)
    ov.text(tx, 1052, nm, fontsize=18, ha='left', va='center')

# panel b axis titles
ov.text(1740, 450, 'Number of Clusters', fontsize=20, ha='center', va='center')
ov.text(1365, 210, 'Prediction Strength', fontsize=20, ha='center', va='center', rotation=90)

fig.savefig('out.png', dpi=100, facecolor='white')
